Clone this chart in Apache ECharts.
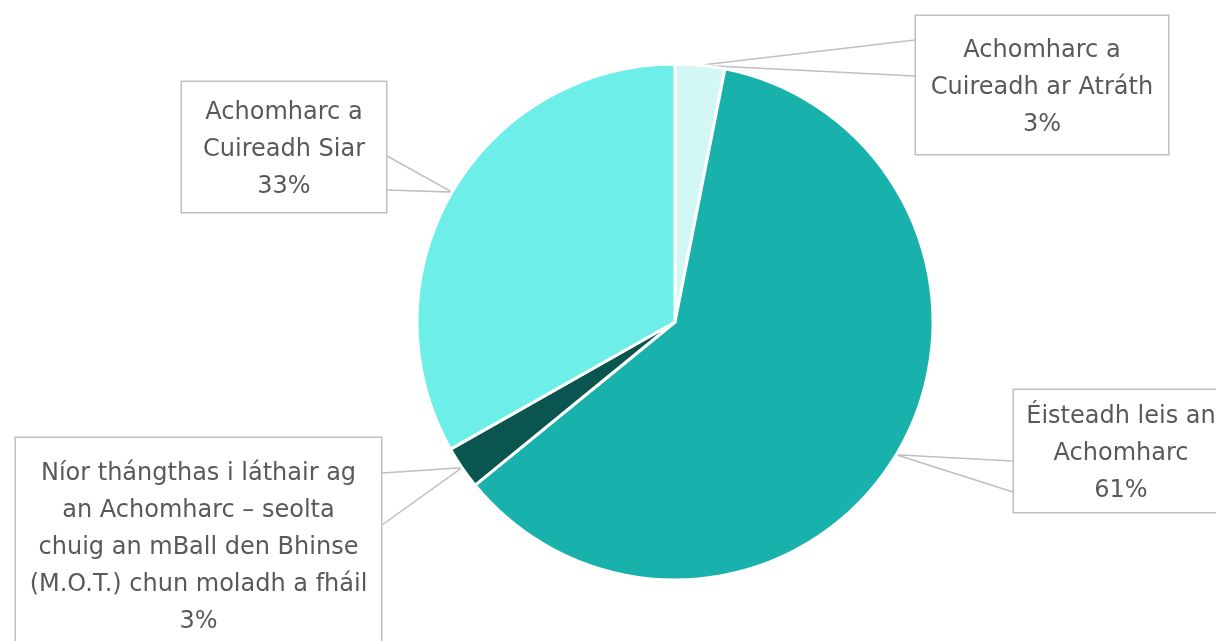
<!DOCTYPE html>
<html>
<head>
<meta charset="utf-8">
<script src="https://cdn.jsdelivr.net/npm/echarts@6/dist/echarts.min.js"></script>
<style>
html,body{margin:0;padding:0;background:#fff;}
#chart{width:1216px;height:641px;}
</style>
</head>
<body>
<div id="chart"></div>
<script>
// Data
const categories = [
  "Achomharc a\nCuireadh ar Atráth",
  "Éisteadh leis an\nAchomharc",
  "Níor thángthas i láthair ag\nan Achomharc – seolta\nchuig an mBall den Bhinse\n(M.O.T.) chun moladh a fháil",
  "Achomharc a\nCuireadh Siar"
];
const values = [3.1, 61.0, 2.7, 33.2];
const colors = ["#d3f7f5", "#19b1ac", "#0b5551", "#6deee8"];

// Callout box layout (positions & sizes, not data)
const boxes = [
  {left: 915, top: 16, w: 254, h: 138, side: "left", y1: 40, y2: 76},
  {left: 1013, top: 390, w: 216, h: 122, side: "left", y1: 461, y2: 492},
  {left: 15, top: 438, w: 367, h: 214, side: "right", y1: 473, y2: 525},
  {left: 181, top: 82, w: 206, h: 130, side: "right", y1: 156, y2: 190}
];
const LH = 37;
const SHIFT = 3;

const chart = echarts.init(document.getElementById('chart'), null, {renderer: 'canvas'});

const seriesData = categories.map((name, i) => {
  const b = boxes[i];
  const nLines = name.split("\n").length + 1;
  const padV = (b.h - nLines * LH) / 2;
  return {
    name: name,
    value: values[i],
    itemStyle: {color: colors[i]},
    label: {
      width: b.w - 2,
      padding: [padV + SHIFT, 0, padV - SHIFT, 0]
    }
  };
});

chart.setOption({
  animation: false,
  backgroundColor: '#ffffff',
  series: [{
    type: 'pie',
    center: [675, 322],
    radius: 258,
    startAngle: 90,
    clockwise: true,
    percentPrecision: 0,
    avoidLabelOverlap: false,
    itemStyle: {borderColor: '#ffffff', borderWidth: 3},
    data: seriesData,
    label: {
      show: true,
      position: 'outside',
      formatter: '{b}\n{d}%',
      fontFamily: 'DejaVu Sans, sans-serif',
      fontSize: 24,
      lineHeight: LH,
      color: '#595959',
      align: 'center',
      backgroundColor: '#ffffff',
      borderColor: '#bfbfbf',
      borderWidth: 1.5
    },
    labelLine: {
      show: true,
      length: 10,
      length2: 10,
      smooth: false,
      lineStyle: {color: '#bfbfbf', width: 1.5}
    },
    emphasis: {disabled: true},
    labelLayout: function (params) {
      const b = boxes[params.dataIndex];
      const tip = params.labelLinePoints ? params.labelLinePoints[0] : null;
      const edgeX = b.side === 'left' ? b.left : b.left + b.w;
      const out = {
        x: b.left + b.w / 2,
        y: b.top,
        align: 'center',
        verticalAlign: 'top'
      };
      if (tip) {
        out.labelLinePoints = [[edgeX, b.y1], [tip[0], tip[1]], [edgeX, b.y2]];
      }
      return out;
    }
  }]
});
</script>
</body>
</html>
